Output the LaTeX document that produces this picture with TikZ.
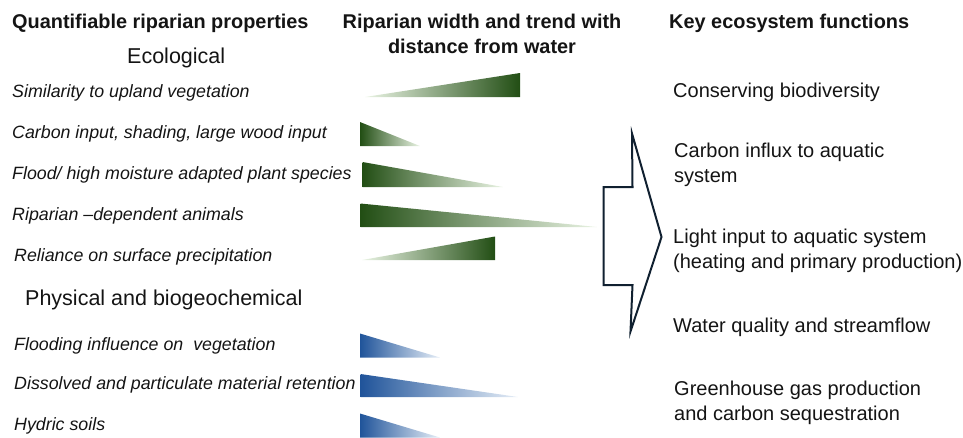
\documentclass[tikz,border=0pt]{standalone}
\usepackage{fontspec}
\setmainfont{Liberation Sans}
\definecolor{gdark}{RGB}{34,78,20}
\definecolor{glight}{RGB}{234,244,228}
\definecolor{bdark}{RGB}{32,84,154}
\definecolor{blight}{RGB}{230,238,247}
\definecolor{arrowc}{RGB}{16,32,48}
\definecolor{txt}{RGB}{20,20,20}
\tikzset{
  head/.style={anchor=base west, inner sep=0pt, font=\fontsize{19.9}{24}\selectfont\bfseries, text=txt},
  midhead/.style={anchor=base, inner sep=0pt, font=\fontsize{19.9}{25}\selectfont\bfseries, text=txt, align=center},
  group/.style={anchor=base west, inner sep=0pt, font=\fontsize{21.5}{26}\selectfont, text=txt},
  prop/.style={anchor=base west, inner sep=0pt, font=\fontsize{17.8}{21}\selectfont\itshape, text=txt},
  func/.style={anchor=base west, inner sep=0pt, font=\fontsize{20}{24.5}\selectfont, text=txt, align=left},
  gdec/.style={left color=gdark, right color=glight},
  ginc/.style={left color=glight, right color=gdark},
  bdec/.style={left color=bdark, right color=blight},
  bigarrow/.style={draw=arrowc, line width=2pt, line join=miter}
}
\begin{document}
\begin{tikzpicture}[x=1pt,y=-1pt]
\useasboundingbox (0,0) rectangle (963,437);
% headers
\node[head] (h1) at (12,28.5) {Quantifiable riparian properties};
\node[midhead] (h2) at (482,53.5) {Riparian width and trend with\\distance from water};
\node[head] (h3) at (669,28.5) {Key ecosystem functions};
% groups
\node[group] (g1) at (127,63.5) {Ecological};
\node[group] (g2) at (25,305.5) {Physical and biogeochemical};
% properties
\node[prop] (p1) at (12,97) {Similarity to upland vegetation};
\node[prop] (p2) at (12,138) {Carbon input, shading, large wood input};
\node[prop] (p3) at (12,179) {Flood/ high moisture adapted plant species};
\node[prop] (p4) at (12,220) {Riparian \textendash dependent animals};
\node[prop] (p5) at (14,261) {Reliance on surface precipitation};
\node[prop] (p6) at (14,350.5) {Flooding influence on\ \ vegetation};
\node[prop] (p7) at (14,389.5) {Dissolved and particulate material retention};
\node[prop] (p8) at (14,430) {Hydric soils};
% triangles
\shade[ginc] (365,97) -- (520,73) -- (520,97) -- cycle;
\shade[gdec] (360,122) -- (420,146) -- (360,146) -- cycle;
\shade[gdec] (362.5,162) -- (503,187) -- (362.5,187) -- cycle;
\shade[gdec] (360.5,203.5) -- (597,227) -- (360.5,227) -- cycle;
\shade[ginc] (362,260) -- (495,236.5) -- (495,260) -- cycle;
\shade[bdec] (360,333.5) -- (440,357.5) -- (360,357.5) -- cycle;
\shade[bdec] (360.5,374) -- (518,397) -- (360.5,397) -- cycle;
\shade[bdec] (360,413.5) -- (440,437.5) -- (360,437.5) -- cycle;
% big arrow
\draw[bigarrow] (632,133.5) -- (661.5,237) -- (630.5,331.5) -- (632.5,285) -- (603.5,285) -- (603.5,187) -- (632.5,187) -- cycle;
% functions
\node[func] (f1) at (673,97) {Conserving biodiversity};
\node[func] (f2) at (674,182) {Carbon influx to aquatic\\system};
\node[func] (f3) at (673,268) {Light input to aquatic system\\(heating and primary production)};
\node[func] (f4) at (673,332.5) {Water quality and streamflow};
\node[func] (f5) at (674,420) {Greenhouse gas production\\and carbon sequestration};
\end{tikzpicture}
\end{document}
